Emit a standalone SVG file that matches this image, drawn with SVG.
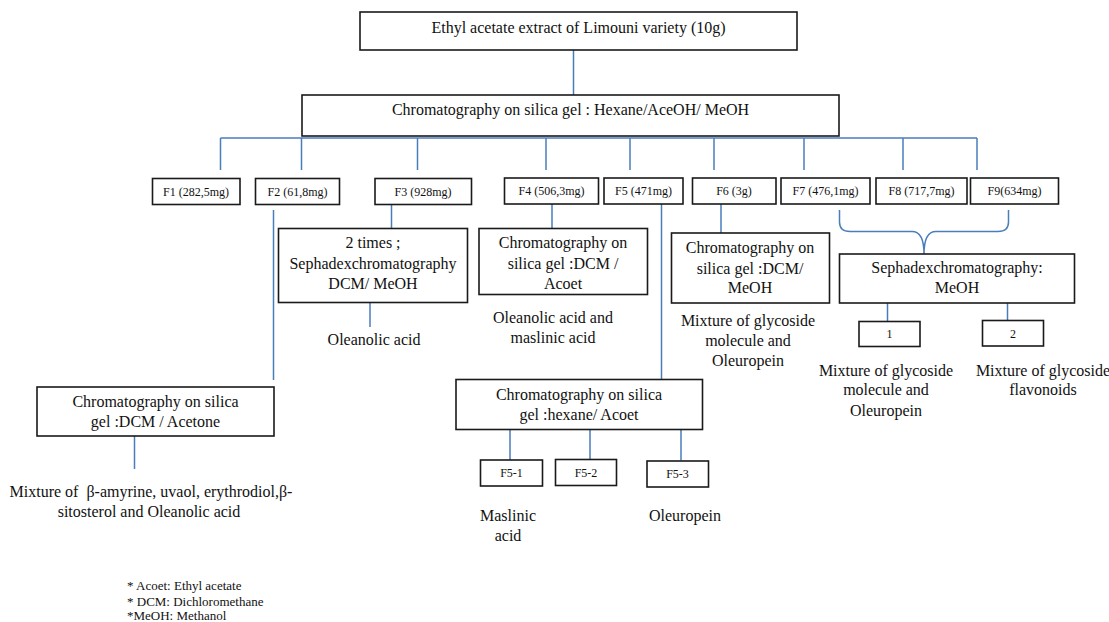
<svg xmlns="http://www.w3.org/2000/svg" width="1109" height="622" viewBox="0 0 1109 622">
<style>
.box{fill:#fff;stroke:#1a1a1a;stroke-width:1.6}
.t{font-family:"Liberation Serif","Times New Roman",serif;font-size:16px;fill:#111;text-anchor:middle}
.s{font-family:"Liberation Serif","Times New Roman",serif;font-size:12px;fill:#111;text-anchor:middle}
.n{font-family:"Liberation Serif","Times New Roman",serif;font-size:13px;fill:#111}
.c{fill:none;stroke:#4a7ebb;stroke-width:1.5}
</style>
<rect width="1109" height="622" fill="#fff"/>
<g id="connectors">
<path class="c" d="M573.5,50V95M220.5,138H977M220.5,138V170M301.5,138V170M417.5,138V170M546,138V170M630,138V170M714,138V170M804,138V170M903,138V170M977,138V170"/>
<path class="c" d="M391.5,204V228M552,204V228M721,204V233M273.5,210V380M661.5,204V379M370,294V327M134.5,436V469"/>
<path class="c" d="M839.5,210V222Q839.5,231.5 850,231.5H912Q924,231.5 924,254M1008.5,210V222Q1008.5,231.5 998,231.5H936Q924,231.5 924,254"/>
<path class="c" d="M887.5,287V321.5M1007.5,289V320.5M510,429V460M590,429V459M681,429V460.5"/>
</g>
<g id="n-top"><rect class="box" x="360" y="12" width="437" height="38"/><text class="t" x="578.5" y="33">Ethyl acetate extract of Limouni variety (10g)</text></g>
<g id="n-chrom"><rect class="box" x="302" y="95" width="537" height="41"/><text class="t" x="570.5" y="115">Chromatography on silica gel : Hexane/AceOH/ MeOH</text></g>
<g id="n-f1"><rect class="box" x="152.5" y="178.5" width="87.5" height="26"/><text class="s" x="196" y="195.5">F1 (282,5mg)</text></g>
<g id="n-f2"><rect class="box" x="255.5" y="178.5" width="84" height="26"/><text class="s" x="297.5" y="195.5">F2 (61,8mg)</text></g>
<g id="n-f3"><rect class="box" x="375" y="178.5" width="96.5" height="26"/><text class="s" x="423" y="195.5">F3 (928mg)</text></g>
<g id="n-f4"><rect class="box" x="504.5" y="178" width="94" height="26"/><text class="s" x="551.5" y="195">F4 (506,3mg)</text></g>
<g id="n-f5"><rect class="box" x="604" y="178" width="79" height="26"/><text class="s" x="643.5" y="195">F5 (471mg)</text></g>
<g id="n-f6"><rect class="box" x="692.5" y="178" width="83.5" height="26"/><text class="s" x="734" y="195">F6 (3g)</text></g>
<g id="n-f7"><rect class="box" x="781" y="178" width="89" height="26"/><text class="s" x="825.5" y="195">F7 (476,1mg)</text></g>
<g id="n-f8"><rect class="box" x="876" y="178" width="91" height="26"/><text class="s" x="921.5" y="195">F8 (717,7mg)</text></g>
<g id="n-f9"><rect class="box" x="970.5" y="178" width="88" height="26"/><text class="s" x="1014.5" y="195">F9(634mg)</text></g>
<g id="n-f3c"><rect class="box" x="278.5" y="228.5" width="189" height="74"/><text class="t" x="373" y="248">2 times ;</text><text class="t" x="373" y="269">Sephadexchromatography</text><text class="t" x="373" y="289">DCM/ MeOH</text></g>
<g id="n-f3r"><text class="t" x="374" y="345">Oleanolic acid</text></g>
<g id="n-f4c"><rect class="box" x="479" y="228.5" width="168.5" height="66"/><text class="t" x="563" y="248">Chromatography on</text><text class="t" x="563" y="269">silica gel :DCM /</text><text class="t" x="563" y="289">Acoet</text></g>
<g id="n-f4r"><text class="t" x="553" y="322.5">Oleanolic acid and</text><text class="t" x="553" y="343">maslinic acid</text></g>
<g id="n-f6c"><rect class="box" x="671.5" y="233" width="158" height="70"/><text class="t" x="750" y="253">Chromatography on</text><text class="t" x="750" y="274">silica gel :DCM/</text><text class="t" x="750" y="293">MeOH</text></g>
<g id="n-f6r"><text class="t" x="748" y="326">Mixture of glycoside</text><text class="t" x="748" y="346">molecule and</text><text class="t" x="748" y="366">Oleuropein</text></g>
<g id="n-seph"><rect class="box" x="839.5" y="254" width="235" height="49"/><text class="t" x="957" y="273">Sephadexchromatography:</text><text class="t" x="957" y="293">MeOH</text></g>
<g id="n-s1"><rect class="box" x="859" y="321.5" width="61" height="25"/><text class="s" x="889.5" y="338">1</text></g>
<g id="n-s2"><rect class="box" x="982.5" y="320.5" width="61" height="25.5"/><text class="s" x="1013" y="337.5">2</text></g>
<g id="n-s1r"><text class="t" x="886" y="375.5">Mixture of glycoside</text><text class="t" x="886" y="395">molecule and</text><text class="t" x="886" y="416">Oleuropein</text></g>
<g id="n-s2r"><text class="t" x="1043" y="375.5">Mixture of glycoside</text><text class="t" x="1043" y="395">flavonoids</text></g>
<g id="n-f2c"><rect class="box" x="37" y="387" width="237" height="49"/><text class="t" x="155.5" y="406.5">Chromatography on silica</text><text class="t" x="155.5" y="426.5">gel :DCM / Acetone</text></g>
<g id="n-f2r"><text class="t" x="151" y="496.5">Mixture of &#160;β-amyrine, uvaol, erythrodiol,β-</text><text class="t" x="149" y="517">sitosterol and Oleanolic acid</text></g>
<g id="n-f5c"><rect class="box" x="456" y="379.5" width="246.5" height="50"/><text class="t" x="579" y="400">Chromatography on silica</text><text class="t" x="579" y="420">gel :hexane/ Acoet</text></g>
<g id="n-f51"><rect class="box" x="480.5" y="460" width="62" height="26"/><text class="s" x="511.5" y="477">F5-1</text></g>
<g id="n-f52"><rect class="box" x="555.5" y="459.5" width="61" height="26"/><text class="s" x="586" y="476.5">F5-2</text></g>
<g id="n-f53"><rect class="box" x="647" y="461" width="61.5" height="26"/><text class="s" x="677.5" y="478">F5-3</text></g>
<g id="n-f51r"><text class="t" x="508" y="520.5">Maslinic</text><text class="t" x="508" y="540.5">acid</text></g>
<g id="n-f53r"><text class="t" x="685" y="520.5">Oleuropein</text></g>
<g id="notes"><text class="n" x="127" y="590">* Acoet: Ethyl acetate</text><text class="n" x="127" y="606">* DCM: Dichloromethane</text><text class="n" x="127" y="620">*MeOH: Methanol</text></g>
</svg>
